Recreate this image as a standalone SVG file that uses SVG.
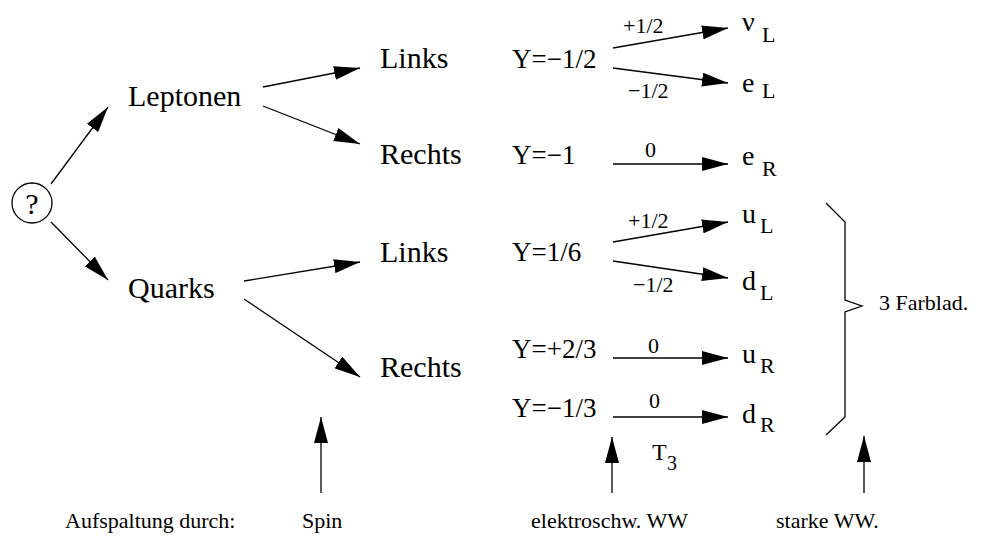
<svg xmlns="http://www.w3.org/2000/svg" width="984" height="540" viewBox="0 0 984 540" font-family="'Liberation Serif', 'Times New Roman', Times, serif">
<defs>
<style>
text{font-family:'Liberation Serif','Times New Roman',Times,serif;fill:#000}
.m{font-size:30px}
.y{font-size:27px}
.s{font-size:22px}
.p{font-size:28px}
.sub{font-size:22px}
.b{font-size:22px}
.c line,.c path{stroke:#000;stroke-width:1.3;fill:none}
.c .a{marker-end:url(#ah)}
</style>
<marker id="ah" viewBox="0 0 26 14" refX="26" refY="7" markerWidth="26" markerHeight="14" orient="auto" markerUnits="userSpaceOnUse">
<path d="M0,0 L26,7 L0,14 z" fill="#000"/>
</marker>
</defs>
<rect width="984" height="540" fill="#fff"/>
<g id="connectors" class="c">
<line class="a" x1="51" y1="184" x2="108" y2="107"/>
<line class="a" x1="51" y1="222" x2="108" y2="280"/>
<line class="a" x1="263" y1="87" x2="360" y2="68"/>
<line class="a" x1="263" y1="106" x2="360" y2="144"/>
<line class="a" x1="244" y1="281" x2="360" y2="262"/>
<line class="a" x1="244" y1="299" x2="360" y2="377"/>
<line class="a" x1="613" y1="48" x2="728" y2="28"/>
<line class="a" x1="613" y1="68" x2="728" y2="83"/>
<line class="a" x1="613" y1="164" x2="728" y2="164"/>
<line class="a" x1="613" y1="242" x2="728" y2="222"/>
<line class="a" x1="613" y1="261" x2="728" y2="278"/>
<line class="a" x1="613" y1="358" x2="728" y2="358"/>
<line class="a" x1="613" y1="417" x2="728" y2="417"/>
<line class="a" x1="321" y1="493" x2="321" y2="417"/>
<line class="a" x1="612" y1="493" x2="612" y2="437"/>
<line class="a" x1="864" y1="493" x2="864" y2="436"/>
<path id="brace" d="M826,203 L845,222 L845,300 L862,306 L845,312 L845,417 L826,435"/>
</g>
<g id="root">
<circle cx="32" cy="203" r="20" fill="none" stroke="#000" stroke-width="1.3"/>
<text class="m" x="32" y="214" text-anchor="middle">?</text>
</g>
<g id="leptonen"><text class="m" x="128" y="106">Leptonen</text></g>
<g id="quarks"><text class="m" x="128" y="298">Quarks</text></g>
<g id="lep-links"><text class="m" x="380" y="68">Links</text></g>
<g id="lep-rechts"><text class="m" x="380" y="164">Rechts</text></g>
<g id="q-links"><text class="m" x="380" y="262">Links</text></g>
<g id="q-rechts"><text class="m" x="380" y="377">Rechts</text></g>
<g id="hypercharges">
<text class="y" x="512" y="68">Y=−1/2</text>
<text class="y" x="512" y="164">Y=−1</text>
<text class="y" x="512" y="261">Y=1/6</text>
<text class="y" x="512" y="358">Y=+2/3</text>
<text class="y" x="512" y="417">Y=−1/3</text>
</g>
<g id="t3-labels">
<text class="s" x="623" y="33">+1/2</text>
<text class="s" x="628" y="98">−1/2</text>
<text class="s" x="645" y="157">0</text>
<text class="s" x="628" y="228">+1/2</text>
<text class="s" x="633" y="292">−1/2</text>
<text class="s" x="648" y="353">0</text>
<text class="s" x="649" y="408">0</text>
</g>
<g id="nu-L"><text class="p" x="742" y="31">ν</text><text class="sub" x="762" y="42">L</text></g>
<g id="e-L"><text class="p" x="742" y="92">e</text><text class="sub" x="762" y="98">L</text></g>
<g id="e-R"><text class="p" x="742" y="165">e</text><text class="sub" x="762" y="176">R</text></g>
<g id="u-L"><text class="p" x="742" y="223">u</text><text class="sub" x="760" y="233">L</text></g>
<g id="d-L"><text class="p" x="742" y="290">d</text><text class="sub" x="760" y="300">L</text></g>
<g id="u-R"><text class="p" x="742" y="363">u</text><text class="sub" x="760" y="373">R</text></g>
<g id="d-R"><text class="p" x="742" y="423">d</text><text class="sub" x="760" y="432">R</text></g>
<g id="T3"><text x="652" y="460" font-size="24">T</text><text x="667" y="470" font-size="20">3</text></g>
<g id="farben"><text class="s" x="879" y="310">3 Farblad.</text></g>
<g id="bottom">
<text class="b" x="65" y="528">Aufspaltung durch:</text>
<text class="b" x="302" y="528">Spin</text>
<text class="b" x="531" y="528">elektroschw. WW</text>
<text class="b" x="776" y="528">starke WW.</text>
</g>
</svg>
